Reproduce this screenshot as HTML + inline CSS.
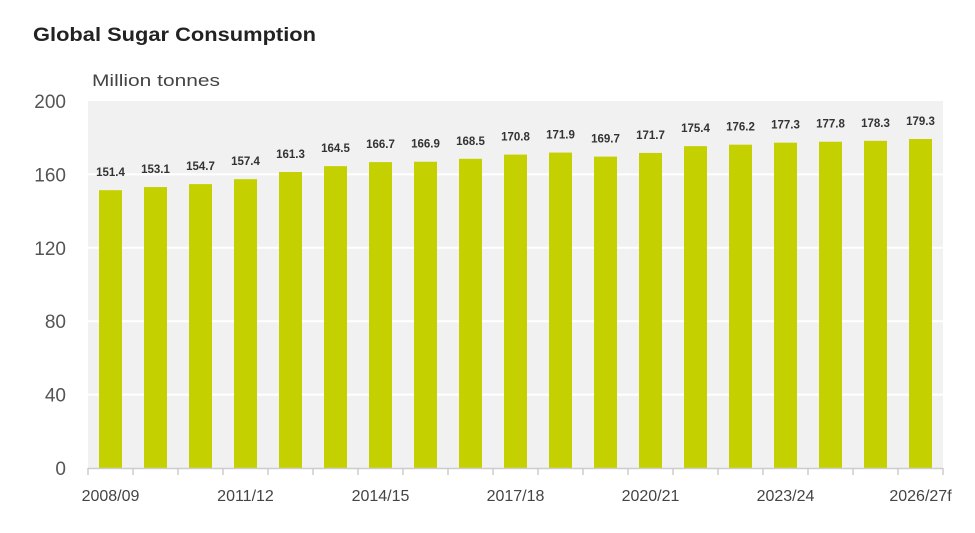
<!DOCTYPE html>
<html><head><meta charset="utf-8"><style>
body{margin:0;background:#fff;}
svg{display:block;font-family:"Liberation Sans",sans-serif;}
</style></head><body>
<svg id="chart" width="975" height="533">
<text x="33" y="41" font-size="19" font-weight="bold" fill="#222" textLength="283" lengthAdjust="spacingAndGlyphs">Global Sugar Consumption</text>
<text x="92" y="86" font-size="17" fill="#444" textLength="128" lengthAdjust="spacingAndGlyphs">Million tonnes</text>
<rect x="88" y="101" width="855" height="367" fill="#f1f1f1"/>
<g id="grid"></g><g id="bars"></g><g id="axes"></g>
</svg>
<script>
const categories=["2008/09","2009/10","2010/11","2011/12","2012/13","2013/14","2014/15","2015/16","2016/17","2017/18","2018/19","2019/20","2020/21","2021/22","2022/23","2023/24","2024/25","2025/26","2026/27f"];
const values=[151.4,153.1,154.7,157.4,161.3,164.5,166.7,166.9,168.5,170.8,171.9,169.7,171.7,175.4,176.2,177.3,177.8,178.3,179.3];
const yTicks=[0,40,80,120,160,200];
const xLabelEvery=3;
const NS="http://www.w3.org/2000/svg";
const x0=88,x1=943,yTop=101,yBot=468,yMax=200;
const bw=(x1-x0)/categories.length;
const ys=v=>yBot-(v/yMax)*(yBot-yTop);
const xc=i=>x0+bw*(i+0.5);
function mk(t,a,p){const e=document.createElementNS(NS,t);for(const k in a)e.setAttribute(k,a[k]);p.appendChild(e);return e;}
const grid=document.getElementById('grid'),bars=document.getElementById('bars'),axes=document.getElementById('axes');
yTicks.forEach(t=>{
  if(t>0&&t<yMax){const l=mk('line',{x1:x0,x2:x1,y1:ys(t),y2:ys(t),stroke:'#fff','stroke-width':2},grid);
  
  }
  const tx=mk('text',{x:66,y:ys(t)+7,'font-size':19,fill:'#555','text-anchor':'end'},axes);
  tx.textContent=t;
  
  
});
values.forEach((v,i)=>{
  const r=mk('rect',{x:xc(i)-11.5,y:ys(v),width:23,height:yBot-ys(v),fill:'#c4d000'},bars);
  
  
  const t=mk('text',{x:xc(i),y:ys(v)-14,'font-size':11.5,'font-weight':'bold',fill:'#333','text-anchor':'middle'},bars);
  t.textContent=v.toFixed(1);
  
  
});
const ax=mk('line',{x1:x0,x2:x1,y1:yBot+0.5,y2:yBot+0.5,stroke:'#ccc','stroke-width':1.5},axes);


for(let i=0;i<=categories.length;i++){
  const tk=mk('line',{x1:x0+bw*i,x2:x0+bw*i,y1:yBot,y2:yBot+7,stroke:'#ccc','stroke-width':1.5},axes);
  
  
}
categories.forEach((c,i)=>{
  if(i%xLabelEvery!==0)return;
  const t=mk('text',{x:xc(i),y:501,'font-size':16,fill:'#444','text-anchor':'middle'},axes);
  t.textContent=c;
  
  
});
</script>
</body></html>
